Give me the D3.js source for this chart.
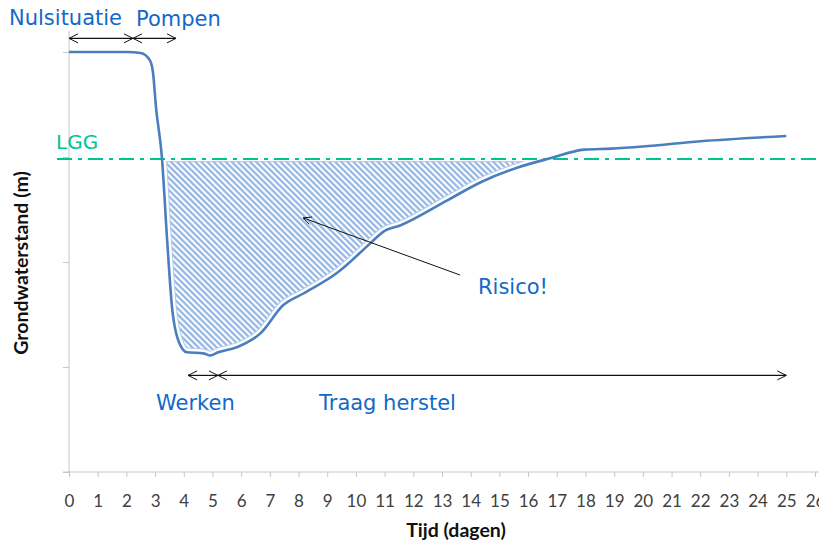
<!DOCTYPE html>
<html>
<head>
<meta charset="utf-8">
<script src="https://cdn.jsdelivr.net/npm/d3@7"></script>
<style>
  body { margin: 0; background: #fff; }
  svg { display: block; }
</style>
</head>
<body>
<div id="chart"></div>
<script>
// groundwater level over time (days), arbitrary units 0..4
var days = [0, 1, 2, 2.5, 2.82, 2.93, 3.03, 3.24, 3.42, 3.59, 3.8, 4.11, 4.68, 4.92, 5.2, 5.87, 6.67, 7.47, 8.17, 9.36, 10.51, 10.96, 11.56, 13.2, 14.35, 15.64, 16.8, 17.95, 18.9, 20, 22, 25]
var level = [4.0, 4.0, 4.0, 3.99, 3.92, 3.8, 3.48, 2.99, 2.21, 1.57, 1.26, 1.14, 1.13, 1.11, 1.14, 1.19, 1.32, 1.59, 1.70, 1.90, 2.18, 2.29, 2.35, 2.59, 2.76, 2.90, 2.99, 3.07, 3.08, 3.10, 3.15, 3.20]
var lgg = 2.98
var xTicks = d3.range(0, 27)
var yTicks = [0, 1, 2, 3, 4]

// phase arrows: [from day, to day, level]
var phaseArrows = [
  [0, 2.23, 4.13],
  [2.23, 3.73, 4.13],
  [4.15, 5.19, 0.92],
  [5.19, 25, 0.92]
]
var riskArrow = { from: [13.63, 1.876], to: [8.16, 2.42] }

var W = 819, H = 546
var x = d3.scaleLinear().domain([0, 26]).range([69, 815])
var y = d3.scaleLinear().domain([0, 4]).range([472, 52])

var blue = '#4a7ebd'
var lightBlue = '#8cb1e2'
var textBlue = '#1169c8'
var green = '#00c48e'

var svg = d3.select('#chart').append('svg')
  .attr('width', W).attr('height', H)

var defs = svg.append('defs')

defs.append('pattern')
  .attr('id', 'hatch')
  .attr('patternUnits', 'userSpaceOnUse')
  .attr('width', 6).attr('height', 4.3)
  .attr('patternTransform', 'rotate(45)')
  .append('line')
  .attr('x1', 0).attr('x2', 6)
  .attr('y1', 2.15).attr('y2', 2.15)
  .attr('stroke', lightBlue)
  .attr('stroke-width', 2.1)

var pts = days.map(function (d, i) { return [d, level[i]] })

var line = d3.line()
  .x(function (d) { return x(d[0]) })
  .y(function (d) { return y(d[1]) })
  .curve(d3.curveMonotoneX)

var above = d3.area()
  .x(function (d) { return x(d[0]) })
  .y0(y(4.6))
  .y1(function (d) { return y(d[1]) })
  .curve(d3.curveMonotoneX)

var hx0 = x(3), hx1 = x(17.2), hy0 = y(lgg) + 2, hy1 = y(0.5)

defs.append('clipPath').attr('id', 'clipAbove')
  .append('path').attr('d', above(pts))
defs.append('clipPath').attr('id', 'clipRect')
  .append('rect')
  .attr('x', hx0).attr('y', hy0)
  .attr('width', hx1 - hx0).attr('height', hy1 - hy0)

/**
 * axes
 */

var xAxis = svg.append('g')
  .attr('transform', 'translate(0,' + y(0) + ')')
  .call(d3.axisBottom(x).tickValues(xTicks).tickSize(5).tickSizeOuter(0).tickPadding(18))
xAxis.select('.domain').remove()
xAxis.selectAll('line').attr('stroke', '#c6c6c6')
xAxis.selectAll('text')
  .attr('font-family', 'Lato, sans-serif')
  .attr('font-size', 17)
  .attr('fill', '#404040')
xAxis.append('line')
  .attr('x1', x(0) - 6).attr('x2', W)
  .attr('y1', 0).attr('y2', 0)
  .attr('stroke', '#c6c6c6')

var yAxis = svg.append('g')
  .attr('transform', 'translate(' + x(0) + ',0)')
  .call(d3.axisLeft(y).tickValues(yTicks).tickSize(6).tickSizeOuter(0).tickFormat(''))
yAxis.select('.domain').remove()
yAxis.selectAll('line').attr('stroke', '#c6c6c6')
yAxis.append('line')
  .attr('x1', 0).attr('x2', 0)
  .attr('y1', y(4.2)).attr('y2', y(0))
  .attr('stroke', '#c6c6c6')

svg.append('text')
  .attr('x', 456).attr('y', 537)
  .attr('text-anchor', 'middle')
  .attr('font-family', 'Lato, sans-serif')
  .attr('font-weight', 'bold')
  .attr('font-size', 19.5)
  .attr('fill', '#111')
  .text('Tijd (dagen)')

svg.append('text')
  .attr('transform', 'translate(28,263) rotate(-90)')
  .attr('text-anchor', 'middle')
  .attr('font-family', 'Lato, sans-serif')
  .attr('font-weight', 'bold')
  .attr('font-size', 19.5)
  .attr('fill', '#111')
  .text('Grondwaterstand (m)')

/**
 * hatched risk area
 */

var risk = svg.append('g').attr('clip-path', 'url(#clipRect)')
  .append('g').attr('clip-path', 'url(#clipAbove)')

risk.append('rect')
  .attr('x', hx0).attr('y', hy0)
  .attr('width', hx1 - hx0).attr('height', hy1 - hy0)
  .attr('fill', 'url(#hatch)')
  .attr('stroke', '#b3cbee')
  .attr('stroke-width', 2)

risk.append('path')
  .attr('d', line(pts))
  .attr('fill', 'none')
  .attr('stroke', '#b3cbee')
  .attr('stroke-width', 9.5)

risk.append('path')
  .attr('d', line(pts))
  .attr('fill', 'none')
  .attr('stroke', '#fff')
  .attr('stroke-width', 7.5)

/**
 * LGG line
 */

svg.append('line')
  .attr('x1', x(0) - 12).attr('x2', W)
  .attr('y1', y(lgg)).attr('y2', y(lgg))
  .attr('stroke', green)
  .attr('stroke-width', 2)
  .attr('stroke-dasharray', '15,6,4,6')

svg.append('text')
  .attr('x', 56).attr('y', 149)
  .attr('font-family', 'DejaVu Sans, sans-serif')
  .attr('font-size', 20)
  .attr('fill', green)
  .text('LGG')

/**
 * groundwater curve
 */

svg.append('path')
  .attr('d', line(pts))
  .attr('fill', 'none')
  .attr('stroke', blue)
  .attr('stroke-width', 2.6)
  .attr('stroke-linejoin', 'round')

/**
 * arrows
 */

function chevron(g, tx, ty, dir) {
  // dir: -1 points left, 1 points right
  g.append('path')
    .attr('d', 'M' + (tx - dir * 9) + ',' + (ty - 4.5) + 'L' + tx + ',' + ty + 'L' + (tx - dir * 9) + ',' + (ty + 4.5))
    .attr('fill', 'none')
    .attr('stroke', '#111')
    .attr('stroke-width', 1)
}

var arrows = svg.append('g')
phaseArrows.forEach(function (a) {
  var ax0 = x(a[0]), ax1 = x(a[1]), ay = y(a[2])
  arrows.append('line')
    .attr('x1', ax0).attr('x2', ax1)
    .attr('y1', ay).attr('y2', ay)
    .attr('stroke', '#111')
    .attr('stroke-width', 1.2)
  chevron(arrows, ax0, ay, -1)
  chevron(arrows, ax1, ay, 1)
})

var rx0 = x(riskArrow.from[0]), ry0 = y(riskArrow.from[1])
var rx1 = x(riskArrow.to[0]), ry1 = y(riskArrow.to[1])
arrows.append('line')
  .attr('x1', rx0).attr('y1', ry0)
  .attr('x2', rx1).attr('y2', ry1)
  .attr('stroke', '#111')
  .attr('stroke-width', 1)
var ang = Math.atan2(ry0 - ry1, rx0 - rx1)
var hl = 9, hw = 0.45
arrows.append('path')
  .attr('d', 'M' + (rx1 + hl * Math.cos(ang - hw)) + ',' + (ry1 + hl * Math.sin(ang - hw)) +
    'L' + rx1 + ',' + ry1 +
    'L' + (rx1 + hl * Math.cos(ang + hw)) + ',' + (ry1 + hl * Math.sin(ang + hw)))
  .attr('fill', 'none')
  .attr('stroke', '#111')
  .attr('stroke-width', 1)

/**
 * labels
 */

var labels = [
  ['Nulsituatie', 9, 25],
  ['Pompen', 136, 26],
  ['Risico!', 478, 294],
  ['Werken', 156, 410],
  ['Traag herstel', 319, 410]
]
svg.selectAll('text.lbl')
  .data(labels)
  .enter().append('text')
  .attr('class', 'lbl')
  .attr('x', function (d) { return d[1] })
  .attr('y', function (d) { return d[2] })
  .attr('font-family', 'DejaVu Sans, sans-serif')
  .attr('font-size', 21)
  .attr('fill', textBlue)
  .text(function (d) { return d[0] })
</script>
</body>
</html>
